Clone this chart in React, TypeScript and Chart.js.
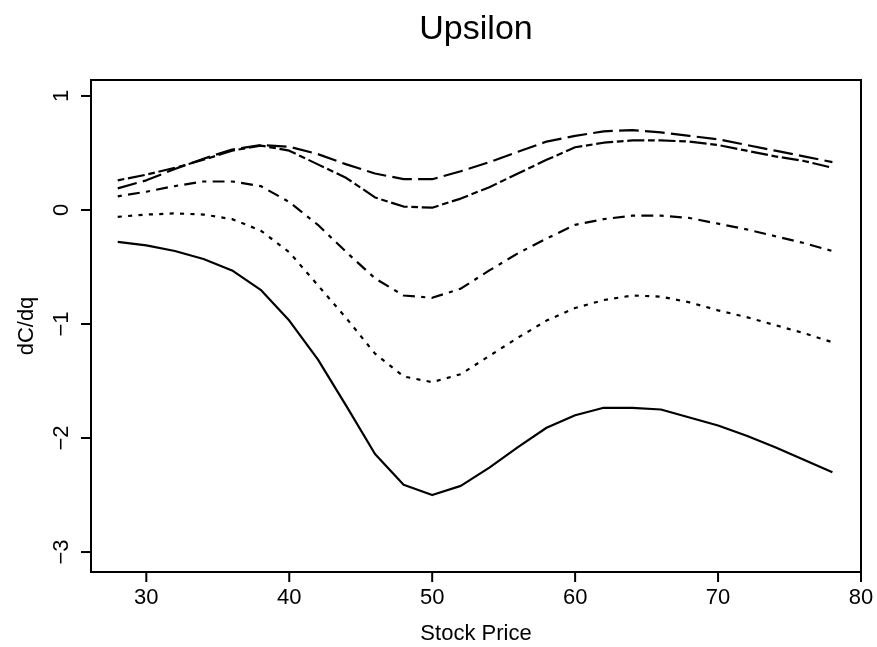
import React, { useEffect, useRef } from "react";
import { Chart, registerables } from "chart.js";

Chart.register(...registerables);

const TITLE = "Upsilon";
const X_LABEL = "Stock Price";
const Y_LABEL = "dC/dq";

const stockPrice = [28, 30, 32, 34, 36, 38, 40, 42, 44, 46, 48, 50, 52, 54, 56, 58, 60, 62, 64, 66, 68, 70, 72, 74, 76, 78];

const seriesSolid = [-0.28, -0.31, -0.36, -0.43, -0.53, -0.70, -0.97, -1.31, -1.72, -2.14, -2.41, -2.50, -2.42, -2.26, -2.08, -1.91, -1.80, -1.735, -1.735, -1.75, -1.82, -1.89, -1.98, -2.08, -2.19, -2.30];
const seriesDotted = [-0.06, -0.04, -0.03, -0.04, -0.08, -0.18, -0.37, -0.66, -0.95, -1.26, -1.46, -1.51, -1.44, -1.28, -1.12, -0.97, -0.86, -0.79, -0.75, -0.76, -0.81, -0.88, -0.94, -1.01, -1.08, -1.16];
const seriesDotDash = [0.12, 0.16, 0.21, 0.25, 0.25, 0.21, 0.07, -0.13, -0.37, -0.60, -0.75, -0.77, -0.69, -0.53, -0.38, -0.25, -0.13, -0.08, -0.05, -0.05, -0.07, -0.12, -0.17, -0.23, -0.29, -0.36];
const seriesLongDash = [0.19, 0.26, 0.36, 0.45, 0.53, 0.57, 0.555, 0.49, 0.40, 0.32, 0.27, 0.27, 0.34, 0.42, 0.51, 0.60, 0.65, 0.69, 0.70, 0.68, 0.65, 0.62, 0.57, 0.52, 0.47, 0.42];
const seriesTwoDash = [0.26, 0.31, 0.37, 0.44, 0.52, 0.565, 0.52, 0.40, 0.28, 0.11, 0.03, 0.02, 0.10, 0.20, 0.32, 0.44, 0.55, 0.59, 0.61, 0.61, 0.60, 0.57, 0.52, 0.47, 0.43, 0.37];

const xTicks = [30, 40, 50, 60, 70, 80];
const yTicks = [-3, -2, -1, 0, 1];

const FONT = '"Liberation Sans", Arial, Helvetica, sans-serif';
const U = 2.6;
const CAP = 1.5;

function dash(pattern: number[]) {
  return pattern.map((d, i) => (i % 2 === 0 ? d * U + CAP : d * U - CAP));
}

const axesPlugin = {
  id: "rStyleAxes",
  afterDraw(chart: any) {
    const { ctx, chartArea: a, scales } = chart;
    const xs = scales.x;
    const ys = scales.y;
    ctx.save();
    ctx.strokeStyle = "#000";
    ctx.fillStyle = "#000";
    ctx.lineWidth = 2;
    ctx.lineCap = "butt";
    ctx.strokeRect(a.left, a.top, a.right - a.left, a.bottom - a.top);

    ctx.font = `22px ${FONT}`;
    ctx.textAlign = "center";
    ctx.textBaseline = "alphabetic";
    xTicks.forEach((v) => {
      const px = xs.getPixelForValue(v);
      ctx.beginPath();
      ctx.moveTo(px, a.bottom);
      ctx.lineTo(px, a.bottom + 10);
      ctx.stroke();
      ctx.fillText(String(v), px, a.bottom + 32);
    });
    yTicks.forEach((v) => {
      const py = ys.getPixelForValue(v);
      ctx.beginPath();
      ctx.moveTo(a.left - 10, py);
      ctx.lineTo(a.left, py);
      ctx.stroke();
      ctx.save();
      ctx.translate(a.left - 23.5, py);
      ctx.rotate(-Math.PI / 2);
      ctx.textAlign = "center";
      ctx.textBaseline = "alphabetic";
      ctx.fillText(String(v).replace("-", "\u2212"), 0, 0);
      ctx.restore();
    });

    ctx.textAlign = "center";
    ctx.fillText(X_LABEL, (a.left + a.right) / 2, a.bottom + 68);

    ctx.save();
    ctx.translate(27, (a.top + a.bottom) / 2);
    ctx.rotate(-Math.PI / 2);
    ctx.textAlign = "center";
    ctx.textBaseline = "middle";
    ctx.fillText(Y_LABEL, 0, 0);
    ctx.restore();

    ctx.font = `34px ${FONT}`;
    ctx.textAlign = "center";
    ctx.textBaseline = "alphabetic";
    ctx.fillText(TITLE, (a.left + a.right) / 2, 39);
    ctx.restore();
  },
};

function toPoints(ys: number[]) {
  return stockPrice.map((x, i) => ({ x, y: ys[i] }));
}

export default function App() {
  const ref = useRef<HTMLCanvasElement | null>(null);

  useEffect(() => {
    if (!ref.current) return;
    const common = {
      borderColor: "#000",
      backgroundColor: "#000",
      borderWidth: 2.2,
      pointRadius: 0,
      tension: 0,
      fill: false,
      borderCapStyle: "butt" as const,
      borderJoinStyle: "round" as const,
    };
    const chart = new Chart(ref.current, {
      type: "line",
      data: {
        datasets: [
          { ...common, label: "solid", data: toPoints(seriesSolid) },
          { ...common, label: "dotted", data: toPoints(seriesDotted), borderDash: dash([1, 3]) },
          { ...common, label: "dotdash", data: toPoints(seriesDotDash), borderDash: dash([1, 3, 4, 3]) },
          { ...common, label: "longdash", data: toPoints(seriesLongDash), borderDash: dash([7, 3]) },
          { ...common, label: "twodash", data: toPoints(seriesTwoDash), borderDash: dash([2, 2, 6, 2]) },
        ],
      },
      options: {
        animation: false,
        responsive: false,
        devicePixelRatio: 1,
        layout: { padding: { left: 91, top: 80, right: 16, bottom: 75 } },
        plugins: { legend: { display: false }, tooltip: { enabled: false }, title: { display: false } },
        scales: {
          x: { type: "linear", min: 26.13, max: 80, display: false },
          y: { type: "linear", min: -3.175, max: 1.14, display: false },
        },
      },
      plugins: [axesPlugin],
    });
    return () => chart.destroy();
  }, []);

  return (
    <div style={{ position: "absolute", left: 0, top: 0, width: 877, height: 647, background: "#fff" }}>
      <canvas ref={ref} width={877} height={647} style={{ display: "block" }} />
    </div>
  );
}
